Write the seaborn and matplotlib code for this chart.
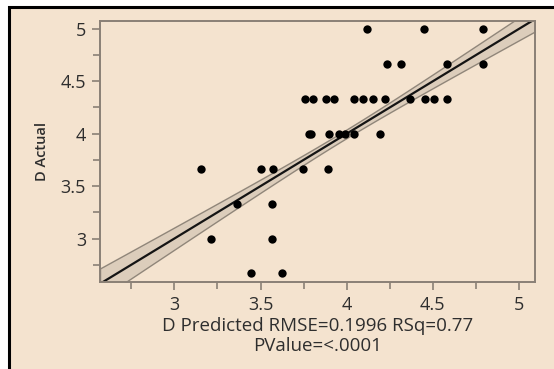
import matplotlib
matplotlib.use("Agg")
import matplotlib.pyplot as plt
from matplotlib.patches import Rectangle
from matplotlib.ticker import MultipleLocator
import seaborn as sns
import pandas as pd
import numpy as np

# values (JMP actual-by-predicted plot)
predicted = [4.117, 4.450, 4.793,
             4.232, 4.313, 4.580, 4.793,
             3.758, 3.806, 3.880, 3.926, 4.042, 4.096, 4.153, 4.223, 4.367, 4.454, 4.506, 4.580,
             3.781, 3.793, 3.897, 3.955, 3.990, 4.042, 4.193,
             3.155, 3.501, 3.574, 3.748, 3.893,
             3.362, 3.565,
             3.212, 3.565,
             3.445, 3.623]
actual = [5.0] * 3 + [4.667] * 4 + [4.333] * 12 + [4.0] * 7 + [3.667] * 5 + [3.333] * 2 + [3.0] * 2 + [2.667] * 2

rmse = 0.1996
ticks = [3, 3.5, 4, 4.5, 5]
tick_labels = ["3", "3.5", "4", "4.5", "5"]

df = pd.DataFrame({"D Predicted": predicted, "D Actual": actual})

sns.set_style("ticks")
plt.rcParams["font.family"] = ["Open Sans", "DejaVu Sans"]

bg = "#f4e3cf"
spine = "#8a8076"
txt = "#2e2e2e"

fig = plt.figure(figsize=(5.54, 3.69), dpi=100, facecolor="white")
# beige panel with black frame on top/left
fig.patches.append(Rectangle((9 / 554, -0.1), 1.2, 1.1 - 7 / 369, transform=fig.transFigure,
                             facecolor=bg, edgecolor="black", linewidth=2.2, zorder=-1))

ax = fig.add_axes([100 / 554, 1 - 282 / 369, 435 / 554, 261 / 369])
ax.set_facecolor(bg)
xlim = (2.568, 5.093)
ylim = (2.585, 5.075)

# actual = predicted line with confidence curves (JMP style)
xs = np.linspace(xlim[0], xlim[1], 200)
xbar = df["D Predicted"].mean()
sxx = ((df["D Predicted"] - xbar) ** 2).sum()
half = 1.25 * rmse * np.sqrt(1 / len(df) + (xs - xbar) ** 2 / sxx)
ax.fill_between(xs, xs - half, xs + half, facecolor=(0.45, 0.42, 0.38, 0.18),
                edgecolor=(0.45, 0.42, 0.38, 0.75), linewidth=1.0, zorder=1)
sns.lineplot(x=xs, y=xs, ax=ax, color="#141414", linewidth=1.6, zorder=2)

sns.scatterplot(data=df, x="D Predicted", y="D Actual", ax=ax, color="black",
                s=36, linewidth=0, zorder=3)

ax.set_xlim(*xlim)
ax.set_ylim(*ylim)
ax.set_xticks(ticks)
ax.set_xticklabels(tick_labels)
ax.set_yticks(ticks)
ax.set_yticklabels(tick_labels)
ax.xaxis.set_minor_locator(MultipleLocator(0.25))
ax.yaxis.set_minor_locator(MultipleLocator(0.25))
ax.tick_params(which="both", direction="out", color=spine, width=1.2, labelsize=13, labelcolor=txt)
ax.tick_params(which="major", length=6, pad=4)
ax.tick_params(which="minor", length=5)

for s in ax.spines.values():
    s.set_color(spine)
    s.set_linewidth(1.4)
    s.set_visible(True)

ax.set_xlabel("D Predicted RMSE=0.1996 RSq=0.77\nPValue=<.0001", fontsize=13.5, color=txt,
              linespacing=1.15, labelpad=2)
ax.set_ylabel("D Actual", fontsize=10.5, fontweight="semibold", color=txt, labelpad=8)

fig.savefig("out.png", dpi=100, facecolor=fig.get_facecolor())
